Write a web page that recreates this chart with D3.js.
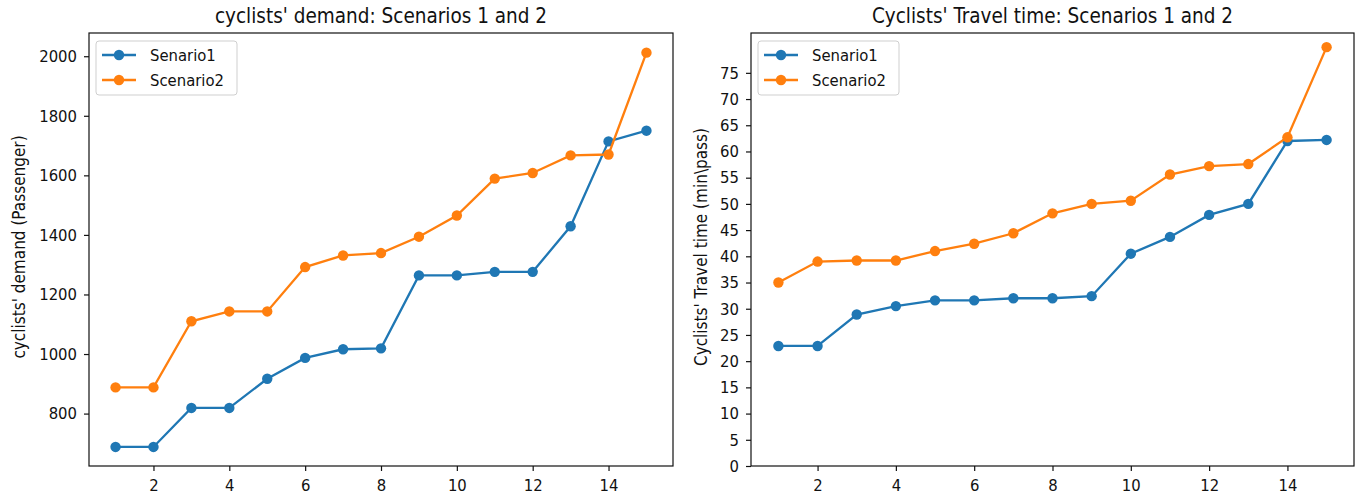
<!DOCTYPE html>
<html>
<head>
<meta charset="utf-8">
<script src="https://cdn.jsdelivr.net/npm/d3@7"></script>
<style>
  body { margin: 0; background: #fff; }
  text { font-family: "DejaVu Sans Condensed", "DejaVu Sans", sans-serif; fill: #111; }
</style>
</head>
<body>
<div id="chart"></div>
<script>
// run index 1..15
const runs = d3.range(1, 16);

// cyclists' demand (Passenger)
const demandS1 = [688, 688, 819, 819, 917, 987, 1016, 1019, 1264, 1264, 1276, 1276, 1429, 1714, 1750];
const demandS2 = [888, 888, 1110, 1143, 1143, 1292, 1331, 1339, 1394, 1465, 1589, 1608, 1667, 1670, 2012];

// cyclists' travel time (min\pass)
const timeS1 = [22.9, 22.9, 28.9, 30.5, 31.6, 31.6, 32.0, 32.0, 32.4, 40.5, 43.7, 47.9, 50.0, 62.0, 62.2];
const timeS2 = [35.0, 39.0, 39.2, 39.2, 41.0, 42.4, 44.4, 48.2, 50.0, 50.6, 55.6, 57.2, 57.6, 62.7, 79.9];

const seriesNames = ["Senario1", "Scenario2"];
const xTicks = [2, 4, 6, 8, 10, 12, 14];
const demandTicks = [800, 1000, 1200, 1400, 1600, 1800, 2000];
const timeTicks = d3.range(0, 80, 5);

const width = 1358;
const height = 495;
const colors = ["#1f77b4", "#ff7f0e"];
const tickFont = 16.5;

const svg = d3.select("#chart")
  .append("svg")
  .attr("width", width)
  .attr("height", height)
  .attr("viewBox", [0, 0, width, height]);

function drawPanel(opts) {
  const x = d3.scaleLinear().domain([0.3, 15.7]).range([opts.left, opts.right]);
  const y = d3.scaleLinear().domain(opts.yDomain).range([466, 33]);

  const g = svg.append("g");

  // axes
  const xAxis = g.append("g")
    .attr("transform", "translate(0,466)")
    .call(d3.axisBottom(x).tickValues(xTicks).tickSize(5).tickPadding(8).tickFormat(d3.format("d")));
  const yAxis = g.append("g")
    .attr("transform", `translate(${opts.left},0)`)
    .call(d3.axisLeft(y).tickValues(opts.yTicks).tickSize(5).tickPadding(7).tickFormat(d3.format("d")));

  [xAxis, yAxis].forEach(a => {
    a.select(".domain").remove();
    a.selectAll(".tick line").attr("stroke", "#111").attr("stroke-width", 1.2);
    a.selectAll(".tick text")
      .attr("font-size", tickFont)
      .attr("font-family", "DejaVu Sans Condensed, DejaVu Sans, sans-serif")
      .attr("fill", "#111");
  });

  // frame
  g.append("rect")
    .attr("x", opts.left)
    .attr("y", 33)
    .attr("width", opts.right - opts.left)
    .attr("height", 433)
    .attr("fill", "none")
    .attr("stroke", "#111")
    .attr("stroke-width", 1.2);

  const line = d3.line()
    .x((d, i) => x(runs[i]))
    .y(d => y(d));

  opts.series.forEach((s, k) => {
    g.append("path")
      .datum(s)
      .attr("d", line)
      .attr("fill", "none")
      .attr("stroke", colors[k])
      .attr("stroke-width", 2.3);
    g.selectAll(".dot" + k)
      .data(s)
      .enter()
      .append("circle")
      .attr("class", "dot" + k)
      .attr("cx", (d, i) => x(runs[i]))
      .attr("cy", d => y(d))
      .attr("r", 5.2)
      .attr("fill", colors[k]);
  });

  // title
  g.append("text")
    .attr("x", (opts.left + opts.right) / 2)
    .attr("y", 23)
    .attr("text-anchor", "middle")
    .attr("font-size", 20.5)
    .text(opts.title);

  // y label
  g.append("text")
    .attr("transform", `translate(${opts.ylabelX},247) rotate(-90)`)
    .attr("text-anchor", "middle")
    .attr("font-family", "DejaVu Sans, sans-serif")
    .attr("font-size", 17)
    .text(opts.ylabel);

  // legend
  const lx = opts.left + 7;
  const legend = g.append("g");
  legend.append("rect")
    .attr("x", lx)
    .attr("y", 41)
    .attr("width", 141)
    .attr("height", 54)
    .attr("rx", 3)
    .attr("fill", "#fff")
    .attr("fill-opacity", 0.8)
    .attr("stroke", "#cfcfcf");
  seriesNames.forEach((name, k) => {
    const ly = 55 + k * 25;
    legend.append("line")
      .attr("x1", lx + 6).attr("x2", lx + 40)
      .attr("y1", ly).attr("y2", ly)
      .attr("stroke", colors[k])
      .attr("stroke-width", 2.3);
    legend.append("circle")
      .attr("cx", lx + 23).attr("cy", ly)
      .attr("r", 5.2)
      .attr("fill", colors[k]);
    legend.append("text")
      .attr("x", lx + 54)
      .attr("y", ly + 6)
      .attr("font-size", tickFont)
      .text(name);
  });
}

drawPanel({
  left: 89, right: 673,
  yDomain: [624, 2078],
  yTicks: demandTicks,
  series: [demandS1, demandS2],
  title: "cyclists' demand: Scenarios 1 and 2",
  ylabel: "cyclists' demand (Passenger)",
  ylabelX: 25
});

drawPanel({
  left: 751, right: 1354,
  yDomain: [0, 82.6],
  yTicks: timeTicks,
  series: [timeS1, timeS2],
  title: "Cyclists' Travel time: Scenarios 1 and 2",
  ylabel: "Cyclists' Travel time (min\\pass)",
  ylabelX: 707
});
</script>
</body>
</html>
